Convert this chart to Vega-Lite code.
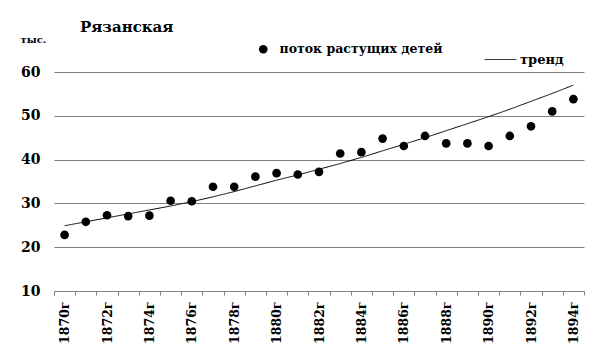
{
  "$schema": "https://vega.github.io/schema/vega-lite/v6.json",
  "width": 530,
  "height": 219,
  "autosize": "none",
  "padding": {"left": 54, "top": 72, "right": 16, "bottom": 68},
  "background": "white",
  "title": {"text": "Рязанская", "anchor": "start", "dx": 60, "offset": -1, "font": "DejaVu Serif", "fontSize": 15, "fontWeight": "bold", "color": "black"},
  "datasets": {
    "pts": [
      {"year": "1870", "value": 22.8}, {"year": "1871", "value": 25.8}, {"year": "1872", "value": 27.3},
      {"year": "1873", "value": 27.1}, {"year": "1874", "value": 27.2}, {"year": "1875", "value": 30.6},
      {"year": "1876", "value": 30.5}, {"year": "1877", "value": 33.8}, {"year": "1878", "value": 33.8},
      {"year": "1879", "value": 36.1}, {"year": "1880", "value": 36.9}, {"year": "1881", "value": 36.6},
      {"year": "1882", "value": 37.2}, {"year": "1883", "value": 41.4}, {"year": "1884", "value": 41.7},
      {"year": "1885", "value": 44.8}, {"year": "1886", "value": 43.1}, {"year": "1887", "value": 45.4},
      {"year": "1888", "value": 43.7}, {"year": "1889", "value": 43.7}, {"year": "1890", "value": 43.1},
      {"year": "1891", "value": 45.4}, {"year": "1892", "value": 47.6}, {"year": "1893", "value": 51.0},
      {"year": "1894", "value": 53.8}
    ],
    "trend": [
      {"year": "1870", "trend": 24.9}, {"year": "1871", "trend": 25.8}, {"year": "1872", "trend": 26.7},
      {"year": "1873", "trend": 27.6}, {"year": "1874", "trend": 28.5}, {"year": "1875", "trend": 29.4},
      {"year": "1876", "trend": 30.4}, {"year": "1877", "trend": 31.5}, {"year": "1878", "trend": 32.7},
      {"year": "1879", "trend": 34.0}, {"year": "1880", "trend": 35.3}, {"year": "1881", "trend": 36.5},
      {"year": "1882", "trend": 37.8}, {"year": "1883", "trend": 39.1}, {"year": "1884", "trend": 40.5},
      {"year": "1885", "trend": 42.0}, {"year": "1886", "trend": 43.5}, {"year": "1887", "trend": 45.0},
      {"year": "1888", "trend": 46.6}, {"year": "1889", "trend": 48.2}, {"year": "1890", "trend": 49.8},
      {"year": "1891", "trend": 51.5}, {"year": "1892", "trend": 53.3}, {"year": "1893", "trend": 55.1},
      {"year": "1894", "trend": 57.0}
    ]
  },
  "encoding": {
    "x": {
      "field": "year", "type": "ordinal",
      "scale": {"paddingInner": 0, "paddingOuter": 0},
      "axis": {
        "title": null, "tickBand": "extent", "labelAngle": 270, "labelAlign": "right", "labelBaseline": "middle",
        "labelExpr": "datum.value != null && toNumber(datum.value) % 2 == 0 ? datum.value + 'г' : ''",
        "labelFont": "DejaVu Serif", "labelFontSize": 12.5, "labelFontWeight": "bold", "labelColor": "black",
        "labelPadding": 6, "tickSize": 4, "tickColor": "#808080", "domainColor": "#808080", "grid": false
      }
    }
  },
  "layer": [
    {
      "data": {"name": "trend"},
      "mark": {"type": "line", "color": "black", "strokeWidth": 1},
      "encoding": {
        "y": {
          "field": "trend", "type": "quantitative",
          "scale": {"domain": [10, 60], "nice": false, "zero": false},
          "axis": {
            "title": "тыс.", "titleAngle": 0, "titleX": -34, "titleY": -30, "titleAlign": "left", "titleBaseline": "alphabetic",
            "titleFont": "DejaVu Serif", "titleFontSize": 10, "titleFontWeight": "bold", "titleColor": "black",
            "values": [10, 20, 30, 40, 50, 60], "domain": false, "ticks": false,
            "labelFont": "DejaVu Serif", "labelFontSize": 14, "labelFontWeight": "bold", "labelColor": "black",
            "labelPadding": 14, "gridColor": "#808080", "gridWidth": 1
          }
        },
        "strokeDash": {
          "datum": "тренд", "type": "nominal",
          "scale": {"range": [[1, 0]]},
          "legend": {
            "title": null, "orient": "none", "legendX": 430, "legendY": -29,
            "symbolType": "stroke", "symbolSize": 1000, "symbolStrokeColor": "black", "symbolStrokeWidth": 1,
            "labelFont": "DejaVu Serif", "labelFontSize": 13, "labelFontWeight": "bold", "labelColor": "black", "labelOffset": 3
          }
        }
      }
    },
    {
      "data": {"name": "pts"},
      "mark": {"type": "point", "filled": true, "color": "black", "size": 75, "opacity": 1},
      "encoding": {
        "y": {"field": "value", "type": "quantitative"},
        "shape": {
          "datum": "поток растущих детей", "type": "nominal",
          "scale": {"range": ["circle"]},
          "legend": {
            "title": null, "orient": "none", "legendX": 203, "legendY": -29,
            "symbolSize": 75, "symbolFillColor": "black", "symbolStrokeColor": "black", "symbolOpacity": 1,
            "labelFont": "DejaVu Serif", "labelFontSize": 12.5, "labelFontWeight": "bold", "labelColor": "black", "labelOffset": 10, "labelLimit": 300
          }
        }
      }
    }
  ],
  "config": {"view": {"stroke": null}}
}
